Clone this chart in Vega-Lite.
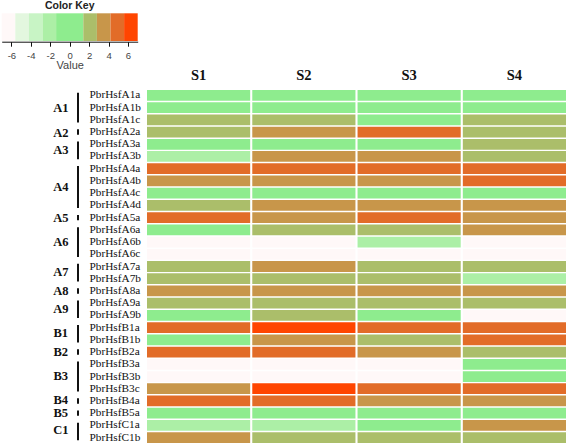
{
  "$schema": "https://vega.github.io/schema/vega-lite/v6.json",
  "autosize": {"type": "none"},
  "padding": {"left": 147, "top": 90, "right": 1, "bottom": 0},
  "width": 419,
  "height": 353,
  "background": "white",
  "config": {"view": {"stroke": null}, "font": "Liberation Sans"},
  "datasets": {
    "cells": [
      {"gene":"PbrHsfA1a","sample":"S1","v":-0.2},{"gene":"PbrHsfA1a","sample":"S2","v":0.3},{"gene":"PbrHsfA1a","sample":"S3","v":-0.5},{"gene":"PbrHsfA1a","sample":"S4","v":0.1},
      {"gene":"PbrHsfA1b","sample":"S1","v":0.4},{"gene":"PbrHsfA1b","sample":"S2","v":-0.1},{"gene":"PbrHsfA1b","sample":"S3","v":0.2},{"gene":"PbrHsfA1b","sample":"S4","v":0.6},
      {"gene":"PbrHsfA1c","sample":"S1","v":2.0},{"gene":"PbrHsfA1c","sample":"S2","v":2.3},{"gene":"PbrHsfA1c","sample":"S3","v":0.8},{"gene":"PbrHsfA1c","sample":"S4","v":1.9},
      {"gene":"PbrHsfA2a","sample":"S1","v":2.2},{"gene":"PbrHsfA2a","sample":"S2","v":3.4},{"gene":"PbrHsfA2a","sample":"S3","v":4.8},{"gene":"PbrHsfA2a","sample":"S4","v":2.1},
      {"gene":"PbrHsfA3a","sample":"S1","v":0.5},{"gene":"PbrHsfA3a","sample":"S2","v":-0.4},{"gene":"PbrHsfA3a","sample":"S3","v":0.9},{"gene":"PbrHsfA3a","sample":"S4","v":1.8},
      {"gene":"PbrHsfA3b","sample":"S1","v":-2.0},{"gene":"PbrHsfA3b","sample":"S2","v":3.3},{"gene":"PbrHsfA3b","sample":"S3","v":3.6},{"gene":"PbrHsfA3b","sample":"S4","v":2.4},
      {"gene":"PbrHsfA4a","sample":"S1","v":4.6},{"gene":"PbrHsfA4a","sample":"S2","v":4.9},{"gene":"PbrHsfA4a","sample":"S3","v":4.7},{"gene":"PbrHsfA4a","sample":"S4","v":5.1},
      {"gene":"PbrHsfA4b","sample":"S1","v":3.2},{"gene":"PbrHsfA4b","sample":"S2","v":3.5},{"gene":"PbrHsfA4b","sample":"S3","v":3.1},{"gene":"PbrHsfA4b","sample":"S4","v":4.5},
      {"gene":"PbrHsfA4c","sample":"S1","v":0.7},{"gene":"PbrHsfA4c","sample":"S2","v":-0.6},{"gene":"PbrHsfA4c","sample":"S3","v":0.2},{"gene":"PbrHsfA4c","sample":"S4","v":0.9},
      {"gene":"PbrHsfA4d","sample":"S1","v":2.5},{"gene":"PbrHsfA4d","sample":"S2","v":3.4},{"gene":"PbrHsfA4d","sample":"S3","v":3.7},{"gene":"PbrHsfA4d","sample":"S4","v":3.0},
      {"gene":"PbrHsfA5a","sample":"S1","v":5.0},{"gene":"PbrHsfA5a","sample":"S2","v":3.6},{"gene":"PbrHsfA5a","sample":"S3","v":4.8},{"gene":"PbrHsfA5a","sample":"S4","v":3.3},
      {"gene":"PbrHsfA6a","sample":"S1","v":0.3},{"gene":"PbrHsfA6a","sample":"S2","v":2.1},{"gene":"PbrHsfA6a","sample":"S3","v":2.6},{"gene":"PbrHsfA6a","sample":"S4","v":3.9},
      {"gene":"PbrHsfA6b","sample":"S1","v":-6.5},{"gene":"PbrHsfA6b","sample":"S2","v":-6.5},{"gene":"PbrHsfA6b","sample":"S3","v":-2.2},{"gene":"PbrHsfA6b","sample":"S4","v":-6.5},
      {"gene":"PbrHsfA6c","sample":"S1","v":-6.5},{"gene":"PbrHsfA6c","sample":"S2","v":-6.5},{"gene":"PbrHsfA6c","sample":"S3","v":-6.5},{"gene":"PbrHsfA6c","sample":"S4","v":-6.5},
      {"gene":"PbrHsfA7a","sample":"S1","v":2.3},{"gene":"PbrHsfA7a","sample":"S2","v":3.2},{"gene":"PbrHsfA7a","sample":"S3","v":1.9},{"gene":"PbrHsfA7a","sample":"S4","v":2.2},
      {"gene":"PbrHsfA7b","sample":"S1","v":1.7},{"gene":"PbrHsfA7b","sample":"S2","v":2.4},{"gene":"PbrHsfA7b","sample":"S3","v":2.0},{"gene":"PbrHsfA7b","sample":"S4","v":-1.9},
      {"gene":"PbrHsfA8a","sample":"S1","v":3.8},{"gene":"PbrHsfA8a","sample":"S2","v":3.1},{"gene":"PbrHsfA8a","sample":"S3","v":3.4},{"gene":"PbrHsfA8a","sample":"S4","v":3.6},
      {"gene":"PbrHsfA9a","sample":"S1","v":2.6},{"gene":"PbrHsfA9a","sample":"S2","v":2.2},{"gene":"PbrHsfA9a","sample":"S3","v":1.8},{"gene":"PbrHsfA9a","sample":"S4","v":2.0},
      {"gene":"PbrHsfA9b","sample":"S1","v":0.6},{"gene":"PbrHsfA9b","sample":"S2","v":2.4},{"gene":"PbrHsfA9b","sample":"S3","v":0.1},{"gene":"PbrHsfA9b","sample":"S4","v":-6.5},
      {"gene":"PbrHsfB1a","sample":"S1","v":5.2},{"gene":"PbrHsfB1a","sample":"S2","v":6.3},{"gene":"PbrHsfB1a","sample":"S3","v":4.9},{"gene":"PbrHsfB1a","sample":"S4","v":5.0},
      {"gene":"PbrHsfB1b","sample":"S1","v":0.2},{"gene":"PbrHsfB1b","sample":"S2","v":3.6},{"gene":"PbrHsfB1b","sample":"S3","v":2.2},{"gene":"PbrHsfB1b","sample":"S4","v":4.7},
      {"gene":"PbrHsfB2a","sample":"S1","v":4.8},{"gene":"PbrHsfB2a","sample":"S2","v":4.6},{"gene":"PbrHsfB2a","sample":"S3","v":3.2},{"gene":"PbrHsfB2a","sample":"S4","v":1.9},
      {"gene":"PbrHsfB3a","sample":"S1","v":-6.5},{"gene":"PbrHsfB3a","sample":"S2","v":-6.5},{"gene":"PbrHsfB3a","sample":"S3","v":-6.5},{"gene":"PbrHsfB3a","sample":"S4","v":0.4},
      {"gene":"PbrHsfB3b","sample":"S1","v":-6.5},{"gene":"PbrHsfB3b","sample":"S2","v":-6.5},{"gene":"PbrHsfB3b","sample":"S3","v":-6.5},{"gene":"PbrHsfB3b","sample":"S4","v":0.8},
      {"gene":"PbrHsfB3c","sample":"S1","v":3.5},{"gene":"PbrHsfB3c","sample":"S2","v":6.4},{"gene":"PbrHsfB3c","sample":"S3","v":4.9},{"gene":"PbrHsfB3c","sample":"S4","v":4.6},
      {"gene":"PbrHsfB4a","sample":"S1","v":5.0},{"gene":"PbrHsfB4a","sample":"S2","v":4.8},{"gene":"PbrHsfB4a","sample":"S3","v":3.6},{"gene":"PbrHsfB4a","sample":"S4","v":3.3},
      {"gene":"PbrHsfB5a","sample":"S1","v":0.1},{"gene":"PbrHsfB5a","sample":"S2","v":0.5},{"gene":"PbrHsfB5a","sample":"S3","v":-0.3},{"gene":"PbrHsfB5a","sample":"S4","v":0.6},
      {"gene":"PbrHsfC1a","sample":"S1","v":-2.3},{"gene":"PbrHsfC1a","sample":"S2","v":-1.8},{"gene":"PbrHsfC1a","sample":"S3","v":0.4},{"gene":"PbrHsfC1a","sample":"S4","v":3.7},
      {"gene":"PbrHsfC1b","sample":"S1","v":3.3},{"gene":"PbrHsfC1b","sample":"S2","v":2.5},{"gene":"PbrHsfC1b","sample":"S3","v":2.2},{"gene":"PbrHsfC1b","sample":"S4","v":2.0}
    ],
    "groups": [
      {"group":"A1","first":"PbrHsfA1a","last":"PbrHsfA1c","mid":"PbrHsfA1b","even":false},
      {"group":"A2","first":"PbrHsfA2a","last":"PbrHsfA2a","mid":"PbrHsfA2a","even":false},
      {"group":"A3","first":"PbrHsfA3a","last":"PbrHsfA3b","mid":"PbrHsfA3a","even":true},
      {"group":"A4","first":"PbrHsfA4a","last":"PbrHsfA4d","mid":"PbrHsfA4b","even":true},
      {"group":"A5","first":"PbrHsfA5a","last":"PbrHsfA5a","mid":"PbrHsfA5a","even":false},
      {"group":"A6","first":"PbrHsfA6a","last":"PbrHsfA6c","mid":"PbrHsfA6b","even":false},
      {"group":"A7","first":"PbrHsfA7a","last":"PbrHsfA7b","mid":"PbrHsfA7a","even":true},
      {"group":"A8","first":"PbrHsfA8a","last":"PbrHsfA8a","mid":"PbrHsfA8a","even":false},
      {"group":"A9","first":"PbrHsfA9a","last":"PbrHsfA9b","mid":"PbrHsfA9a","even":true},
      {"group":"B1","first":"PbrHsfB1a","last":"PbrHsfB1b","mid":"PbrHsfB1a","even":true},
      {"group":"B2","first":"PbrHsfB2a","last":"PbrHsfB2a","mid":"PbrHsfB2a","even":false},
      {"group":"B3","first":"PbrHsfB3a","last":"PbrHsfB3c","mid":"PbrHsfB3b","even":false},
      {"group":"B4","first":"PbrHsfB4a","last":"PbrHsfB4a","mid":"PbrHsfB4a","even":false},
      {"group":"B5","first":"PbrHsfB5a","last":"PbrHsfB5a","mid":"PbrHsfB5a","even":false},
      {"group":"C1","first":"PbrHsfC1a","last":"PbrHsfC1b","mid":"PbrHsfC1a","even":true}
    ],
    "key": [
      {"lo":-7,"hi":-5.6,"v":-6.3},{"lo":-5.6,"hi":-4.2,"v":-4.9},{"lo":-4.2,"hi":-2.8,"v":-3.5},
      {"lo":-2.8,"hi":-1.4,"v":-2.1},{"lo":-1.4,"hi":1.4,"v":0},{"lo":1.4,"hi":2.8,"v":2.1},
      {"lo":2.8,"hi":4.2,"v":3.5},{"lo":4.2,"hi":5.6,"v":4.9},{"lo":5.6,"hi":7,"v":6.3}
    ],
    "keytitle": [{"t":"Color Key"}]
  },
  "resolve": {"scale": {"x": "independent", "y": "independent", "color": "shared"}, "axis": {"x": "independent", "y": "independent"}},
  "layer": [
    {
      "data": {"name": "cells"},
      "mark": {"type": "rect"},
      "encoding": {
        "x": {"field": "sample", "type": "nominal",
              "scale": {"domain": ["S1","S2","S3","S4"], "paddingInner": 0.02, "paddingOuter": 0},
              "axis": {"orient": "top", "title": null, "ticks": false, "tickSize": 0, "domain": false, "labelAngle": 0,
                       "labelFont": "Liberation Serif", "labelFontSize": 14.5, "labelFontWeight": "bold", "labelColor": "#111", "labelPadding": 8}},
        "y": {"field": "gene", "type": "nominal",
              "scale": {"domain": ["PbrHsfA1a","PbrHsfA1b","PbrHsfA1c","PbrHsfA2a","PbrHsfA3a","PbrHsfA3b","PbrHsfA4a","PbrHsfA4b","PbrHsfA4c","PbrHsfA4d","PbrHsfA5a","PbrHsfA6a","PbrHsfA6b","PbrHsfA6c","PbrHsfA7a","PbrHsfA7b","PbrHsfA8a","PbrHsfA9a","PbrHsfA9b","PbrHsfB1a","PbrHsfB1b","PbrHsfB2a","PbrHsfB3a","PbrHsfB3b","PbrHsfB3c","PbrHsfB4a","PbrHsfB5a","PbrHsfC1a","PbrHsfC1b"], "paddingInner": 0.12, "paddingOuter": 0},
              "axis": {"orient": "left", "title": null, "ticks": false, "tickSize": 0, "domain": false,
                       "labelAlign": "left", "labelBaseline": "middle", "labelPadding": 58,
                       "labelFont": "Liberation Serif", "labelFontSize": 11.3, "labelColor": "#111"}},
        "color": {"field": "v", "type": "quantitative",
                  "scale": {"type": "threshold", "domain": [-5.6,-4.2,-2.8,-1.4,1.4,2.8,4.2,5.6],
                            "range": ["#fff8f8","#e3f7df","#c8f4c5","#acefa6","#8eec8e","#abbe6a","#c8964a","#e26c28","#ff4500"]},
                  "legend": null}
      }
    },
    {
      "data": {"name": "groups"},
      "mark": {"type": "rule", "color": "#111", "strokeWidth": 2},
      "encoding": {
        "x": {"datum": "bar", "type": "nominal", "scale": {"type": "point", "domain": ["label","bar"], "range": [-86.2,-69], "padding": 0}, "axis": null},
        "y": {"field": "first", "type": "nominal", "bandPosition": 0.25,
              "scale": {"domain": ["PbrHsfA1a","PbrHsfA1b","PbrHsfA1c","PbrHsfA2a","PbrHsfA3a","PbrHsfA3b","PbrHsfA4a","PbrHsfA4b","PbrHsfA4c","PbrHsfA4d","PbrHsfA5a","PbrHsfA6a","PbrHsfA6b","PbrHsfA6c","PbrHsfA7a","PbrHsfA7b","PbrHsfA8a","PbrHsfA9a","PbrHsfA9b","PbrHsfB1a","PbrHsfB1b","PbrHsfB2a","PbrHsfB3a","PbrHsfB3b","PbrHsfB3c","PbrHsfB4a","PbrHsfB5a","PbrHsfC1a","PbrHsfC1b"], "paddingInner": 0.12, "paddingOuter": 0},
              "axis": null},
        "y2": {"field": "last", "bandPosition": 0.75}
      }
    },
    {
      "data": {"name": "groups"},
      "transform": [{"filter": "!datum.even"}],
      "mark": {"type": "text", "font": "Liberation Serif", "fontWeight": "bold", "fontSize": 12.5, "align": "center", "baseline": "middle", "color": "#111"},
      "encoding": {
        "x": {"datum": "label", "type": "nominal", "scale": {"type": "point", "domain": ["label","bar"], "range": [-86.2,-69], "padding": 0}, "axis": null},
        "y": {"field": "mid", "type": "nominal",
              "scale": {"domain": ["PbrHsfA1a","PbrHsfA1b","PbrHsfA1c","PbrHsfA2a","PbrHsfA3a","PbrHsfA3b","PbrHsfA4a","PbrHsfA4b","PbrHsfA4c","PbrHsfA4d","PbrHsfA5a","PbrHsfA6a","PbrHsfA6b","PbrHsfA6c","PbrHsfA7a","PbrHsfA7b","PbrHsfA8a","PbrHsfA9a","PbrHsfA9b","PbrHsfB1a","PbrHsfB1b","PbrHsfB2a","PbrHsfB3a","PbrHsfB3b","PbrHsfB3c","PbrHsfB4a","PbrHsfB5a","PbrHsfC1a","PbrHsfC1b"], "paddingInner": 0.12, "paddingOuter": 0},
              "axis": null},
        "text": {"field": "group"}
      }
    },
    {
      "data": {"name": "groups"},
      "transform": [{"filter": "datum.even"}],
      "mark": {"type": "text", "font": "Liberation Serif", "fontWeight": "bold", "fontSize": 12.5, "align": "center", "baseline": "middle", "color": "#111", "dy": 5.5},
      "encoding": {
        "x": {"datum": "label", "type": "nominal", "scale": {"type": "point", "domain": ["label","bar"], "range": [-86.2,-69], "padding": 0}, "axis": null},
        "y": {"field": "mid", "type": "nominal",
              "scale": {"domain": ["PbrHsfA1a","PbrHsfA1b","PbrHsfA1c","PbrHsfA2a","PbrHsfA3a","PbrHsfA3b","PbrHsfA4a","PbrHsfA4b","PbrHsfA4c","PbrHsfA4d","PbrHsfA5a","PbrHsfA6a","PbrHsfA6b","PbrHsfA6c","PbrHsfA7a","PbrHsfA7b","PbrHsfA8a","PbrHsfA9a","PbrHsfA9b","PbrHsfB1a","PbrHsfB1b","PbrHsfB2a","PbrHsfB3a","PbrHsfB3b","PbrHsfB3c","PbrHsfB4a","PbrHsfB5a","PbrHsfC1a","PbrHsfC1b"], "paddingInner": 0.12, "paddingOuter": 0},
              "axis": null},
        "text": {"field": "group"}
      }
    },
    {
      "data": {"name": "key"},
      "mark": {"type": "rect"},
      "encoding": {
        "x": {"field": "lo", "type": "quantitative",
              "scale": {"domain": [-7,7], "range": [-145.3,-9.3], "nice": false, "zero": false},
              "axis": {"orient": "bottom", "offset": -401.3, "values": [-6,-4,-2,0,2,4,6], "grid": false,
                       "labelExpr": "replace(datum.label, '\u2212', '-')",
                       "domainColor": "#111", "domainWidth": 1, "tickColor": "#111", "tickSize": 4.5, "tickWidth": 1,
                       "labelFontSize": 9.5, "labelColor": "#444", "labelPadding": 4, "labelFont": "Liberation Sans",
                       "title": "Value", "titleFontSize": 11, "titleFontWeight": "normal", "titleColor": "#444", "titlePadding": 0, "titleFont": "Liberation Sans"}},
        "x2": {"field": "hi"},
        "y": {"datum": 0, "type": "quantitative", "scale": {"domain": [0,1], "range": [-49,-76.7], "nice": false, "zero": false}, "axis": null},
        "y2": {"datum": 1},
        "color": {"field": "v", "type": "quantitative",
                  "scale": {"type": "threshold", "domain": [-5.6,-4.2,-2.8,-1.4,1.4,2.8,4.2,5.6],
                            "range": ["#fff8f8","#e3f7df","#c8f4c5","#acefa6","#8eec8e","#abbe6a","#c8964a","#e26c28","#ff4500"]},
                  "legend": null}
      }
    },
    {
      "data": {"name": "keytitle"},
      "mark": {"type": "text", "font": "Liberation Sans", "fontWeight": "bold", "fontSize": 10.5, "align": "center", "baseline": "middle", "color": "#222"},
      "encoding": {
        "x": {"datum": 0, "type": "quantitative", "scale": {"domain": [-7,7], "range": [-145.3,-9.3], "nice": false, "zero": false}, "axis": null},
        "y": {"datum": 1.26, "type": "quantitative", "scale": {"domain": [0,1], "range": [-49,-76.7], "nice": false, "zero": false}, "axis": null},
        "text": {"field": "t"}
      }
    }
  ]
}
